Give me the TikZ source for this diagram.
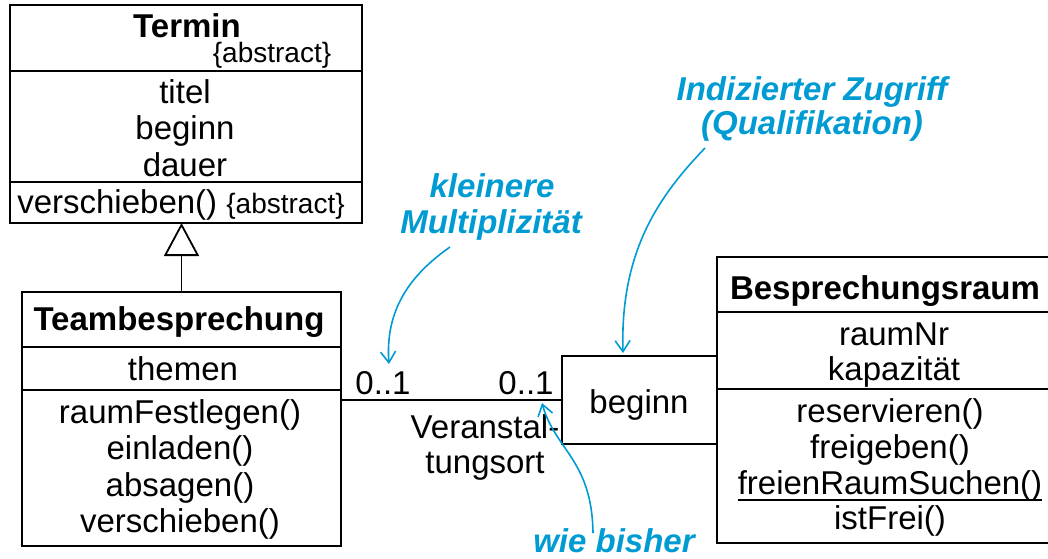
\documentclass[tikz,border=0pt]{standalone}
\usepackage{fontspec}
\setmainfont{Liberation Sans}
\usetikzlibrary{arrows.meta}
\definecolor{notecol}{RGB}{0,155,210}

\tikzset{
  box/.style={draw, line width=1.8pt, inner sep=0pt, outer sep=0pt, anchor=north west},
  txt/.style={inner sep=0pt, anchor=base, font=\fontsize{33}{36}\selectfont},
  titletxt/.style={txt, font=\fontsize{33}{36}\selectfont\bfseries},
  smalltxt/.style={txt, font=\fontsize{28}{30}\selectfont},
  remark/.style={txt, text=notecol, font=\fontsize{33}{36}\selectfont\bfseries\itshape},
  notearrow/.style={draw=notecol, line width=1.6pt, -{Straight Barb[length=11pt,width=15pt]}},
  gen/.style={draw, line width=1.8pt, -{Triangle[open,length=33pt,width=35pt,line width=1.8pt]}},
  assoc/.style={draw, line width=1.8pt},
}

\begin{document}
\begin{tikzpicture}[x=1pt,y=-1pt]
\useasboundingbox (0,0) rectangle (1048,558);

% class Termin
\node[box, minimum width=352pt, minimum height=66pt]  (termin-name) at (10,5) {};
\node[box, minimum width=352pt, minimum height=111pt] (termin-attr) at (10,71) {};
\node[box, minimum width=352pt, minimum height=41pt]  (termin-op)   at (10,182) {};
\node[titletxt] (t-title) at (187,37) {Termin};
\node[smalltxt] (t-abs)   at (272,62) {\{abstract\}};
\node[txt] (t-a1) at (185,103) {titel};
\node[txt] (t-a2) at (185,139.5) {beginn};
\node[txt] (t-a3) at (185,176) {dauer};
\node[txt] (t-o1) at (181,213) {verschieben() {\fontsize{28}{30}\selectfont\{abstract\}}};

% class Teambesprechung
\node[box, minimum width=319pt, minimum height=55pt]  (team-name) at (22,292) {};
\node[box, minimum width=319pt, minimum height=43pt]  (team-attr) at (22,347) {};
\node[box, minimum width=319pt, minimum height=156pt] (team-op)   at (22,390) {};
\node[titletxt] (tb-title) at (179,330) {Teambesprechung};
\node[txt] (tb-a1) at (183,380) {themen};
\node[txt] (tb-o1) at (180,423) {raumFestlegen()};
\node[txt] (tb-o2) at (180,459.5) {einladen()};
\node[txt] (tb-o3) at (180,496) {absagen()};
\node[txt] (tb-o4) at (180,532) {verschieben()};

% qualifier
\node[box, minimum width=155pt, minimum height=88pt] (qual) at (562,356) {};
\node[txt] (q-text) at (639,413) {beginn};

% class Besprechungsraum
\node[box, minimum width=348pt, minimum height=55pt]  (raum-name) at (717,257) {};
\node[box, minimum width=348pt, minimum height=77pt]  (raum-attr) at (717,312) {};
\node[box, minimum width=348pt, minimum height=154pt] (raum-op)   at (717,389) {};
\node[titletxt] (r-title) at (885,299) {Besprechungsraum};
\node[txt] (r-a1) at (894,345) {raumNr};
\node[txt] (r-a2) at (894,380) {kapazität};
\node[txt] (r-o1) at (890,422) {reservieren()};
\node[txt] (r-o2) at (890,458) {freigeben()};
\node[txt] (r-o3) at (890,494) {freienRaumSuchen()};
\node[txt] (r-o4) at (890,529) {istFrei()};
\draw[line width=2pt] ([yshift=-6pt]r-o3.base west) -- ([yshift=-6pt]r-o3.base east);

% generalization
\draw[gen] (team-name.north) -- (team-name.north |- termin-op.south);

% association with qualifier
\draw[assoc] (team-op.east |- qual.west) -- (qual.west);
\node[txt] (m-left)  at (383,394) {0..1};
\node[txt] (m-right) at (526,394) {0..1};
\node[txt] (role1) at (485,438) {Veranstal-};
\node[txt] (role2) at (485,473) {tungsort};

% remarks
\node[remark] (n1a) at (492,197) {kleinere};
\node[remark] (n1b) at (491,233) {Multiplizität};
\node[remark] (n2a) at (812,100) {Indizierter Zugriff};
\node[remark] (n2b) at (812,134) {(Qualifikation)};
\node[remark] (n3)  at (614,552) {wie bisher};

\coordinate (n1-start) at (450,247);
\coordinate (n1-tip)   at (389,364);
\coordinate (n2-start) at (705,148);
\coordinate (n2-tip)   at (623,353);
\coordinate (n3-start) at (593,533);
\coordinate (n3-tip)   at (542,403);

\draw[notearrow] (n1-start) .. controls (410,275) and (385,310) .. (n1-tip);
\draw[notearrow] (n2-start) .. controls (660,195) and (620,250) .. (n2-tip);
\draw[notearrow] (n3-start) .. controls (592,460) and (555,450) .. (n3-tip);
\end{tikzpicture}
\end{document}
